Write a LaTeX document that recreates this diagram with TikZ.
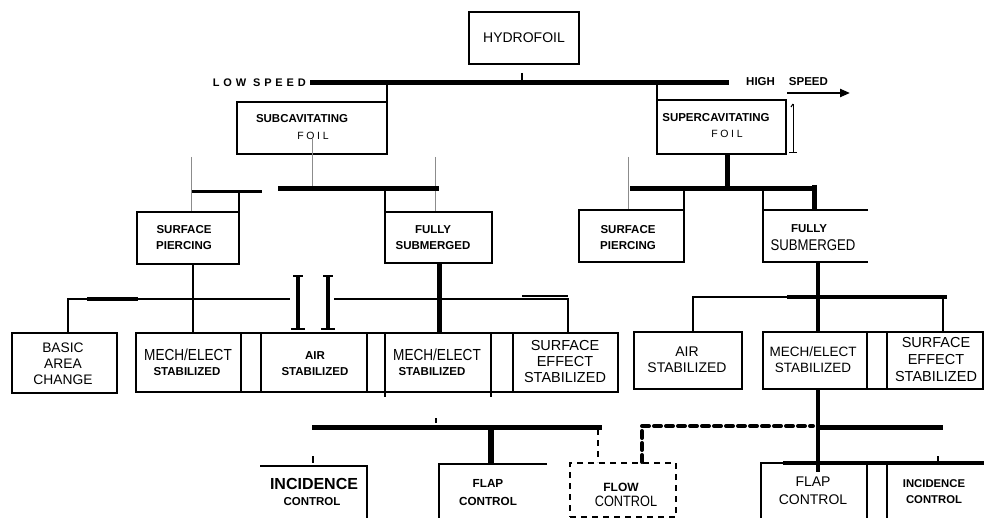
\documentclass[tikz,border=0pt]{standalone}
\usepackage{fontspec}
\setmainfont{Liberation Sans}
\newfontfamily\condfont[FakeStretch=0.85]{Liberation Sans}
\newfontfamily\spacedfont[LetterSpace=35]{Liberation Sans}
\newfontfamily\foilfont[LetterSpace=25]{Liberation Sans}
\usetikzlibrary{arrows.meta}
\begin{document}
\begin{tikzpicture}[x=1pt,y=-1pt,
  box/.style={draw, line width=2.2pt, inner sep=0pt, outer sep=0pt},
  lb/.style={inner sep=0pt, align=center, font=\bfseries\fontsize{11.5}{16}\selectfont},
  rg/.style={inner sep=0pt, align=center, font=\fontsize{14}{16.5}\selectfont},
  cnd/.style={inner sep=0pt, font=\condfont\fontsize{16}{18}\selectfont},
  spc/.style={inner sep=0pt, font=\spacedfont\bfseries\fontsize{11}{12}\selectfont},
  foil/.style={inner sep=0pt, font=\foilfont\fontsize{10.5}{12}\selectfont},
  bar/.style={line width=5pt},
  conn/.style={line width=2pt},
  hair/.style={line width=0.6pt, black!45},
  dsh/.style={line width=2pt, dash pattern=on 6pt off 5pt},
  hdsh/.style={line width=4pt, dash pattern=on 7pt off 5pt, line cap=round},
]
\useasboundingbox (0,0) rectangle (984,518);
\clip (0,0) rectangle (984,518);

% ---------------- top level
\node[box, minimum width=110pt, minimum height=52pt, font=\fontsize{14}{16}\selectfont] (hydro) at (524,38) {HYDROFOIL};
\coordinate (hs1) at (522,73); \coordinate (hs2) at (522,80);
\draw[conn] (hs1) -- (hs2);
\coordinate (barL) at (310,83); \coordinate (barR) at (729,83);
\draw[bar] (barL) -- (barR);
\node[spc, anchor=east] (low) at (306,83) {LOW SPEED};
\node[lb, anchor=west] (high) at (746,82) {HIGH\hspace{14pt}SPEED};
\coordinate (arA) at (787,93); \coordinate (arB) at (850,93);
\draw[line width=2.2pt, -{Triangle[length=10pt,width=8pt]}] (arA) -- (arB);

% ---------------- level 1
\node[box, minimum width=150pt, minimum height=52pt] (sub) at (312,128) {};
\node[lb] (subt) at (302,119) {SUBCAVITATING};
\node[foil] (subf) at (313,136) {FOIL};
\coordinate (subj) at (387,83);
\draw[conn] (subj) -- (sub.north east);

\node[box, minimum width=129pt, minimum height=54pt] (sup) at (721.5,127) {};
\node[lb] (supt) at (716,118) {SUPERCAVITATING};
\node[foil] (supf) at (727,134) {FOIL};
\coordinate (supj) at (657,83);
\draw[conn] (supj) -- (sup.north west);
\coordinate (brA) at (793,104); \coordinate (brB) at (793,153);
\coordinate (brC) at (789,153); \coordinate (brD) at (797,153);
\draw[line width=1pt] (brA) -- (brB) (brC) -- (brD);
\draw[line width=1pt] (brA) -- ++(-2,3);

% thin grey leads
\coordinate (h1a) at (191,157); \coordinate (h1b) at (191,211);
\coordinate (h2a) at (312,139); \coordinate (h2b) at (312,188);
\coordinate (h3a) at (435,157); \coordinate (h3b) at (435,211);
\coordinate (h4a) at (628,157); \coordinate (h4b) at (628,209);
\draw[hair] (h1a) -- (h1b) (h2a) -- (h2b) (h3a) -- (h3b) (h4a) -- (h4b);

% ---------------- level 2 left
\coordinate (b2aL) at (192,192); \coordinate (b2aR) at (262,192);
\draw[line width=3pt] (b2aL) -- (b2aR);
\coordinate (b2bL) at (278,189); \coordinate (b2bR) at (439,189);
\draw[bar] (b2bL) -- (b2bR);
\node[box, minimum width=102pt, minimum height=52pt] (spl) at (188,238) {};
\node[lb] (splt) at (184,238) {SURFACE\\PIERCING};
\node[box, minimum width=107pt, minimum height=51pt] (fsl) at (438.5,237.5) {};
\node[lb] (fslt) at (433,238) {FULLY\\SUBMERGED};
\coordinate (j1) at (239,191);
\draw[conn] (j1) -- (spl.north east);
\coordinate (j2) at (385,189);
\draw[conn] (j2) -- (fsl.north west);

% ---------------- level 2 right
\coordinate (supB) at (727,154); \coordinate (b2cM) at (727,189);
\draw[bar] (supB) -- (b2cM);
\coordinate (b2cL) at (630,189); \coordinate (b2cR) at (815,189);
\draw[bar] (b2cL) -- (b2cR);
\node[box, minimum width=105pt, minimum height=52pt] (spr) at (631.5,236) {};
\node[lb] (sprt) at (628,238) {SURFACE\\PIERCING};
\coordinate (fsrA) at (868,210); \coordinate (fsrB) at (763,210);
\coordinate (fsrC) at (763,262); \coordinate (fsrD) at (868,262);
\draw[line width=2.2pt] (fsrA) -- (fsrB) -- (fsrC) -- (fsrD);
\node[lb] (fsrt1) at (809,229) {FULLY};
\node[inner sep=0pt, font=\condfont\fontsize{15.5}{18}\selectfont] (fsrt2) at (813,245) {SUBMERGED};
\coordinate (j3) at (684,189);
\draw[conn] (j3) -- (spr.north east);
\coordinate (j4) at (763,189);
\draw[conn] (j4) -- (fsrB);
\coordinate (j5) at (814,185); \coordinate (j5b) at (814,210);
\draw[bar] (j5) -- (j5b);

% ---------------- level 3 left
\node[box, minimum width=105pt, minimum height=60pt] (bac) at (64.5,363) {};
\node[inner sep=0pt, align=center, font=\fontsize{13.8}{16}\selectfont] (bact) at (63,364) {BASIC\\AREA\\CHANGE};
\node[box, minimum width=482pt, minimum height=59pt] (row) at (377,362.5) {};
\foreach \x/\n in {241/d1,261/d2,367/d3,385/d4,491/d5,513/d6}{
  \coordinate (\n t) at (\x,333); \coordinate (\n b) at (\x,392);
  \draw[conn] (\n t) -- (\n b);
}
\coordinate (tk1) at (385,397); \coordinate (tk2) at (491,397);
\draw[line width=1.5pt] (d4b) -- (tk1) (d5b) -- (tk2);
\node[cnd] (me1) at (188,355) {MECH/ELECT};
\node[lb] (st1) at (187,372) {STABILIZED};
\node[lb] (air1) at (315,364) {AIR\\STABILIZED};
\node[cnd] (me2) at (437,355) {MECH/ELECT};
\node[lb] (st2) at (432,372) {STABILIZED};
\node[inner sep=0pt, align=center, font=\fontsize{14.5}{16}\selectfont] (se1) at (565,362) {SURFACE\\EFFECT\\STABILIZED};

\coordinate (bL0) at (68,333); \coordinate (bL1) at (68,299);
\coordinate (bL2) at (290,299); \coordinate (bL3) at (87,299); \coordinate (bL4) at (138,299);
\draw[conn] (bL0) -- (bL1) -- (bL2);
\draw[line width=4pt] (bL3) -- (bL4);
\coordinate (bR1) at (334,299); \coordinate (bR2) at (568,299); \coordinate (bR3) at (568,333);
\draw[conn] (bR1) -- (bR2) -- (bR3);
\coordinate (bR4) at (522,296); \coordinate (bR5) at (568,296);
\draw[conn] (bR4) -- (bR5);
\coordinate (spB) at (193,264); \coordinate (spD) at (193,333);
\draw[conn] (spB) -- (spD);
\coordinate (fsB) at (439,263); \coordinate (fsD) at (439,333);
\draw[bar] (fsB) -- (fsD);
% I I marks
\foreach \x/\n in {298/ia,328/ib}{
  \coordinate (\n t) at (\x,276); \coordinate (\n b) at (\x,329);
  \draw[line width=4pt] (\n t) -- (\n b);
  \draw[line width=2.5pt] ([xshift=-5pt]\n t) -- ([xshift=5pt]\n t);
  \draw[line width=2.5pt] ([xshift=-7pt]\n b) -- ([xshift=7pt]\n b);
}

% ---------------- level 3 right
\node[box, minimum width=108pt, minimum height=57pt] (airr) at (688,360.5) {};
\node[rg] (airrt) at (687,360) {AIR\\STABILIZED};
\node[box, minimum width=220pt, minimum height=57pt] (rowr) at (873,360.5) {};
\foreach \x/\n in {867/e1,887/e2}{
  \coordinate (\n t) at (\x,332); \coordinate (\n b) at (\x,389);
  \draw[conn] (\n t) -- (\n b);
}
\node[inner sep=0pt, align=center, font=\fontsize{13.5}{16}\selectfont] (me3) at (813,360) {MECH/ELECT\\STABILIZED};
\node[inner sep=0pt, align=center, font=\fontsize{14.5}{17}\selectfont] (se2) at (936,360) {SURFACE\\EFFECT\\STABILIZED};
\coordinate (fsrM) at (818,262); \coordinate (rowrT) at (818,332);
\draw[line width=3.5pt] (fsrM) -- (rowrT);
\coordinate (c1) at (693,297); \coordinate (c2) at (787,297); \coordinate (c3) at (947,297);
\coordinate (c4) at (943,297); \coordinate (c5) at (943,332);
\draw[conn] (airr.north -| c1) -- (c1) -- (c2);
\draw[line width=4pt] (c2) -- (c3);
\draw[conn] (c4) -- (c5);

% ---------------- level 4 left
\coordinate (d4L) at (312,427); \coordinate (d4R) at (602,427);
\draw[bar] (d4L) -- (d4R);
\coordinate (t4a) at (436,418); \coordinate (t4b) at (436,423);
\draw[line width=1.5pt] (t4a) -- (t4b);
\coordinate (fl1) at (491,427); \coordinate (fl2) at (491,464);
\draw[line width=6pt] (fl1) -- (fl2);
% incidence (left)
\coordinate (inA) at (260,466); \coordinate (inB) at (367,466); \coordinate (inC) at (367,520);
\draw[line width=2.2pt] (inA) -- (inB) -- (inC);
\coordinate (itA) at (313,456); \coordinate (itB) at (313,463);
\draw[line width=1.5pt] (itA) -- (itB);
\node[inner sep=0pt, font=\bfseries\fontsize{16}{18}\selectfont] (inc1) at (314,484) {INCIDENCE};
\node[lb] (inc1c) at (312,502) {CONTROL};
% flap (left)
\coordinate (fpA) at (547,464); \coordinate (fpB) at (439,464); \coordinate (fpC) at (439,520);
\draw[line width=2.2pt] (fpA) -- (fpB) -- (fpC);
\node[inner sep=0pt, align=center, font=\bfseries\fontsize{11.7}{18}\selectfont] (flp1) at (488,493) {FLAP\\CONTROL};
% flow (dashed)
\node[draw, dsh, minimum width=106pt, minimum height=54pt, inner sep=0pt] (flow) at (623,490) {};
\node[inner sep=0pt, font=\bfseries\fontsize{12}{14}\selectfont] (flowt) at (621,487) {FLOW};
\node[inner sep=0pt, font=\condfont\fontsize{15}{17}\selectfont] (flowc) at (626,501) {CONTROL};
\coordinate (fw1) at (598,429);
\draw[dsh] (fw1) -- (flow.north -| fw1);
\coordinate (fw2) at (642,426); \coordinate (fw3) at (813,426);
\draw[hdsh] (flow.north -| fw2) -- (fw2) -- (fw3);

% ---------------- level 4 right
\coordinate (r4a) at (818,389); \coordinate (r4b) at (818,472);
\draw[line width=4pt] (r4a) -- (r4b);
\coordinate (r4L) at (818,427); \coordinate (r4R) at (943,427);
\draw[bar] (r4L) -- (r4R);
\coordinate (rb1) at (761,463); \coordinate (rb2) at (783,463); \coordinate (rb3) at (984,463);
\coordinate (rb0) at (761,520);
\draw[conn] (rb0) -- (rb1) -- (rb2);
\draw[line width=4pt] (rb2) -- (rb3);
\coordinate (rd1t) at (867,463); \coordinate (rd1b) at (867,520);
\coordinate (rd2t) at (887,463); \coordinate (rd2b) at (887,520);
\draw[conn] (rd1t) -- (rd1b) (rd2t) -- (rd2b);
\coordinate (rtA) at (938,456); \coordinate (rtB) at (938,463);
\draw[line width=1.5pt] (rtA) -- (rtB);
\node[inner sep=0pt, align=center, font=\fontsize{14}{18}\selectfont] (flp2) at (813,491) {FLAP\\CONTROL};
\node[inner sep=0pt, align=center, font=\bfseries\fontsize{11.3}{16}\selectfont] (inc2) at (934,492) {INCIDENCE\\CONTROL};
\end{tikzpicture}
\end{document}
